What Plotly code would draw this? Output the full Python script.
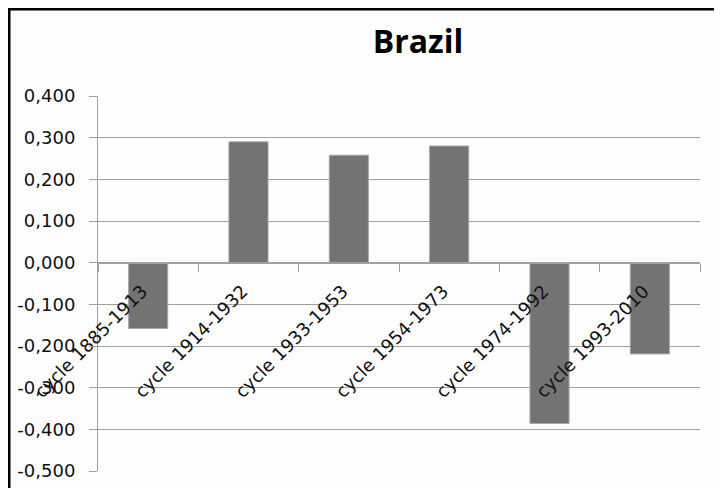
import plotly.graph_objects as go

# Brazil - cycle deviation per period
categories = [
    "cycle 1885-1913",
    "cycle 1914-1932",
    "cycle 1933-1953",
    "cycle 1954-1973",
    "cycle 1974-1992",
    "cycle 1993-2010",
]
values = [-0.158, 0.290, 0.258, 0.280, -0.386, -0.219]

y_tickvals = [0.4, 0.3, 0.2, 0.1, 0.0, -0.1, -0.2, -0.3, -0.4, -0.5]
y_ticktext = ["0,400", "0,300", "0,200", "0,100", "0,000",
              "-0,100", "-0,200", "-0,300", "-0,400", "-0,500"]

y_range = [-0.5, 0.4]
zero_pos = (0 - y_range[0]) / (y_range[1] - y_range[0])  # where x axis crosses

# page body adds an 8px margin, so the figure is 8px smaller than the window
W, H = 714, 480
L, R, T, B = 90, 22, 88, 17
pw, ph = W - L - R, H - T - B

grid_col = "#a0a0a0"
font_name = "DejaVu Sans"
txt_col = "#111111"

fig = go.Figure()
fig.add_trace(go.Bar(
    x=categories,
    y=values,
    marker=dict(color="#737373", line=dict(color="#a8a8a8", width=1)),
))

fig.update_layout(
    width=W,
    height=H,
    margin=dict(l=L, r=R, t=T, b=B, autoexpand=False),
    paper_bgcolor="#fdfdfd",
    plot_bgcolor="#fdfdfd",
    bargap=0.61,
    showlegend=False,
    font=dict(family=font_name, size=18, color=txt_col),
    title=dict(
        text="<b>Brazil</b>",
        x=410 / W,
        xanchor="center",
        xref="container",
        y=1 - 34 / H,
        yanchor="middle",
        yref="container",
        font=dict(family="Open Sans", size=32, color="#000000"),
    ),
)

fig.update_xaxes(
    type="category",
    anchor="free",
    position=zero_pos,
    showline=True,
    linecolor=grid_col,
    linewidth=1,
    showgrid=False,
    ticks="outside",
    tickson="boundaries",
    ticklen=8,
    tickcolor=grid_col,
    tickangle=-45,
    ticklabelstandoff=10,
    ticklabelshift=-6,
    tickfont=dict(family=font_name, size=18, color=txt_col),
)

fig.update_yaxes(
    range=y_range,
    tickvals=y_tickvals,
    ticktext=y_ticktext,
    showline=True,
    linecolor=grid_col,
    linewidth=1,
    showgrid=True,
    gridcolor=grid_col,
    gridwidth=1,
    zeroline=False,
    ticks="outside",
    ticklen=8,
    tickcolor=grid_col,
    ticklabelstandoff=10,
    tickfont=dict(family=font_name, size=18, color=txt_col),
)

# black frame around the chart (top and left edges visible in the reference)
fig.add_shape(
    type="rect", xref="paper", yref="paper",
    x0=(1 - L) / pw, x1=(W + 20 - L) / pw,
    y0=(H - B - (H + 20)) / ph, y1=(H - B - 1) / ph,
    line=dict(color="black", width=3),
    fillcolor="rgba(0,0,0,0)",
    layer="above",
)

fig.write_html("out.html")
